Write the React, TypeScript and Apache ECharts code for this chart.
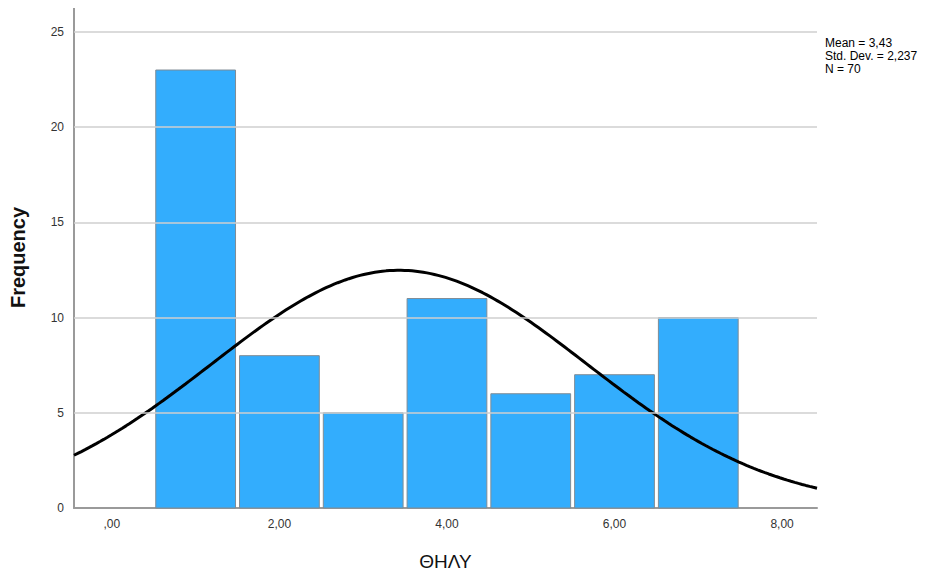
import React, { useEffect, useRef } from "react";
import * as echarts from "echarts";

const binCenters = [1, 2, 3, 4, 5, 6, 7];
const frequencies = [23, 8, 5, 11, 6, 7, 10];
const xTicks = [0, 2, 4, 6, 8];
const yTicks = [0, 5, 10, 15, 20, 25];
const statLines = ["Mean = 3,43", "Std. Dev. = 2,237", "N = 70"];
const mean = 3.43;
const stdDev = 2.237;
const nCount = 70;
const binWidth = 1;

const X_MIN = -0.452;
const X_MAX = 8.417;
const Y_MAX = 26.31;

function fmtX(v: number): string {
  const s = v.toFixed(2).replace(".", ",");
  return s.startsWith("0,") ? s.slice(1) : s;
}

export default function App() {
  const ref = useRef<HTMLDivElement>(null);
  useEffect(() => {
    if (!ref.current) return;
    const chart = echarts.init(ref.current, null, { renderer: "svg" });

    const curve: number[][] = [];
    const steps = 200;
    for (let i = 0; i <= steps; i++) {
      const x = X_MIN + ((X_MAX - X_MIN) * i) / steps;
      const z = (x - mean) / stdDev;
      const y = (nCount * binWidth) / (stdDev * Math.sqrt(2 * Math.PI)) * Math.exp(-0.5 * z * z);
      curve.push([x, y]);
    }

    const barData = binCenters.map((c, i) => [c, frequencies[i]]);
    const font = "Liberation Sans, Arial, sans-serif";

    chart.setOption({
      animation: false,
      textStyle: { fontFamily: font },
      grid: { left: 72, right: 118, top: 7, bottom: 67, containLabel: false },
      xAxis: {
        type: "value",
        min: X_MIN,
        max: X_MAX,
        name: "ΘΗΛΥ",
        nameLocation: "middle",
        nameGap: 44,
        nameTextStyle: { fontSize: 19, color: "#111", fontFamily: font },
        axisLine: { show: true, onZero: false, lineStyle: { color: "#9a9a9a", width: 2 } },
        axisTick: { show: false, customValues: xTicks },
        axisLabel: {
          customValues: xTicks,
          formatter: (v: number) => fmtX(v),
          color: "#333",
          fontSize: 12,
          margin: 10,
        },
        splitLine: { show: false },
      },
      yAxis: {
        type: "value",
        min: 0,
        max: Y_MAX,
        name: "Frequency",
        nameLocation: "middle",
        nameGap: 46,
        nameTextStyle: { fontSize: 20, fontWeight: "bold", color: "#111", fontFamily: font },
        axisLine: { show: true, onZero: false, lineStyle: { color: "#9a9a9a", width: 2 } },
        axisTick: { show: false, customValues: yTicks },
        axisLabel: { customValues: yTicks, color: "#333", fontSize: 12, margin: 10 },
        splitLine: { show: false },
      },
      series: [
        {
          type: "line",
          data: yTicks.filter((t) => t > 0).map((t) => [X_MIN, t]),
          showSymbol: false,
          lineStyle: { width: 0 },
          silent: true,
          z: 1,
          markLine: {
            silent: true,
            symbol: "none",
            label: { show: false },
            lineStyle: { color: "#cfcfcf", width: 1.5, type: "solid" },
            data: yTicks.filter((t) => t > 0).map((t) => ({ yAxis: t })),
          },
        },
        {
          type: "custom",
          z: 2,
          data: barData,
          renderItem: (params: any, api: any) => {
            const c = api.value(0);
            const v = api.value(1);
            const p0 = api.coord([c - binWidth / 2, v]);
            const p1 = api.coord([c + binWidth / 2, 0]);
            const x0 = p0[0] + 2;
            const x1 = p1[0] - 2;
            return {
              type: "rect",
              shape: { x: x0, y: p0[1], width: x1 - x0, height: p1[1] - p0[1] },
              style: { fill: "#33adfd", stroke: "#7f8c96", lineWidth: 1 },
            };
          },
        },
        {
          type: "line",
          z: 3,
          data: curve,
          showSymbol: false,
          smooth: false,
          clip: true,
          lineStyle: { color: "#000", width: 3 },
        },
      ],
      graphic: statLines.map((t, i) => ({
        type: "text",
        left: 825,
        top: 37 + i * 13,
        style: { text: t, fontSize: 12, fill: "#000", fontFamily: font },
      })),
    });
    return () => chart.dispose();
  }, []);
  return <div ref={ref} style={{ width: 935, height: 576, margin: -8 }} />;
}
